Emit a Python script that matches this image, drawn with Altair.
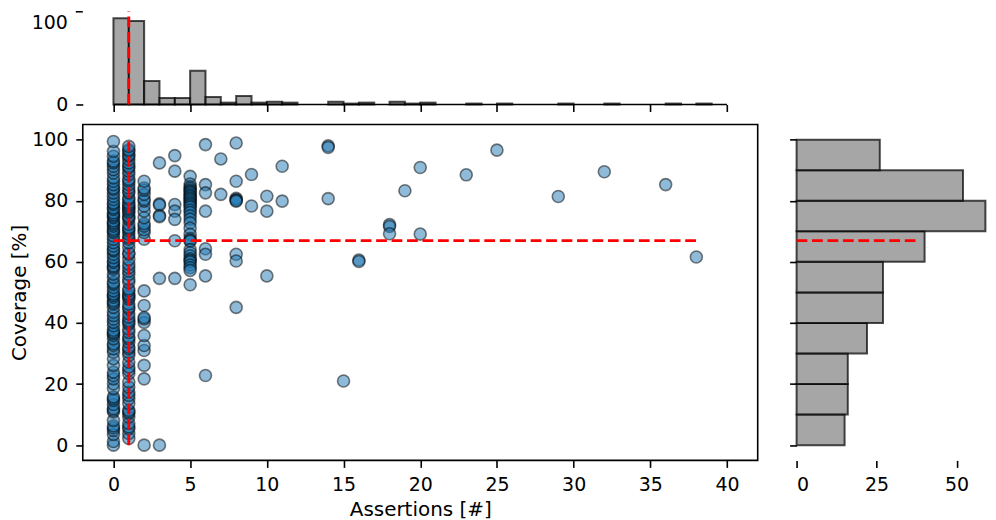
import altair as alt
import numpy as np
import pandas as pd

# ---------------- data ----------------
# coverage [%] of the tests that have 0, 1, 2, 3, 4, 5 assertions
cov_a0 = [0.0, 1.2, 3.5, 4.8, 5.6, 6.3, 8.1,
          10.9, 11.4, 12.0, 13.3, 14.6, 15.2, 15.8, 18.5,
          20.1, 21.7, 22.8, 23.9, 26.1, 28.3,
          30.4, 31.5, 32.6, 33.2, 34.8, 35.9, 36.5, 37.0, 37.6, 39.1,
          40.2, 41.3, 42.4, 43.5, 45.1, 46.2, 46.7, 47.3, 48.4, 49.0, 49.5,
          50.5, 51.6, 52.7, 53.3, 54.9, 56.0, 57.6, 58.2, 58.7, 59.8,
          60.3, 61.4, 62.5, 63.6, 64.1, 65.2, 66.3, 67.4, 68.5, 69.6,
          70.1, 70.7, 71.7, 72.3, 72.8, 73.4, 74.5, 75.0, 75.5, 76.1, 77.2, 77.7, 78.8, 79.3,
          80.4, 81.5, 82.6, 83.7, 84.2, 85.3, 86.4, 87.5, 89.1,
          90.2, 91.3, 92.4, 93.0, 94.6, 96.2, 99.4]
cov_a1 = [2.2, 3.8, 5.4, 6.0, 7.1, 9.2,
          10.3, 10.9, 11.4, 13.6, 15.2, 16.3, 17.4, 19.0,
          20.7, 23.4, 24.5, 25.6, 27.2, 29.4,
          30.4, 31.5, 32.1, 33.7, 34.8, 35.4, 36.9, 38.0, 39.6,
          40.2, 40.8, 41.9, 43.0, 44.6, 45.2, 46.2, 47.8, 48.4, 48.9, 49.5,
          50.5, 51.1, 53.3, 54.3, 55.9, 57.0, 58.1, 59.2,
          60.8, 62.5, 63.0, 64.7, 66.3, 67.4, 68.0, 69.1,
          70.1, 70.7, 71.2, 72.3, 73.9, 74.5, 75.0, 76.1, 76.6, 77.2, 77.7, 78.3, 78.8, 79.4,
          80.4, 81.0, 82.6, 83.2, 84.2, 85.3, 86.4, 87.0, 88.6, 89.7,
          90.8, 91.3, 92.4, 93.5, 94.6, 95.1, 96.2, 96.7, 97.8]
cov_a2 = [0.0, 21.7, 26.1, 31.0, 32.6, 35.9, 40.2, 41.3, 41.8, 45.7, 50.5,
          67.4, 69.6, 70.5, 71.7, 72.5, 74.5, 76.6, 78.3, 79.9,
          80.5, 82.1, 83.5, 84.2, 86.4]
cov_a3 = [92.4, 79.0, 78.6, 75.2, 74.8, 54.6, 0.0]
cov_a4 = [94.8, 89.7, 78.8, 76.6, 73.9, 66.9, 54.6]
cov_a5 = [88.0, 85.5, 84.6, 84.0, 83.4, 83.0, 82.5, 81.9, 81.5, 81.0, 80.6, 80.1,
          79.5, 79.0, 78.4, 77.9, 77.0, 76.2, 75.1, 74.0, 72.8, 71.0,
          69.0, 67.6, 67.0, 66.8, 64.0, 63.0, 62.0, 61.0, 60.5, 60.0,
          59.0, 58.1, 57.2, 52.5]
# the sparser points, as (assertions, coverage) pairs in two parallel lists
sparse_assert = [6, 6, 6, 6, 6, 6, 6, 6,
                 7, 7,
                 8, 8, 8, 8, 8, 8, 8, 8, 8,
                 9, 9,
                 10, 10, 10,
                 11, 11,
                 14, 14, 14,
                 15,
                 16, 16,
                 18, 18, 18,
                 19,
                 20, 20,
                 23, 25, 29, 32, 36, 38]
sparse_cov = [98.4, 85.3, 82.6, 76.6, 64.3, 62.5, 55.4, 22.8,
              93.7, 82.1,
              98.9, 86.4, 80.8, 80.4, 80.1, 79.9, 62.5, 60.3, 45.1,
              88.6, 78.3,
              81.5, 76.6, 55.4,
              91.3, 79.9,
              98.0, 97.5, 80.7,
              21.0,
              60.6, 60.1,
              72.2, 71.6, 69.2,
              83.3,
              90.9, 69.1,
              88.5, 96.6, 81.4, 89.5, 85.3, 61.6]

x_ticks = [0, 5, 10, 15, 20, 25, 30, 35, 40]
y_ticks = [0, 20, 40, 60, 80, 100]
count_ticks_right = [0, 25, 50]

# ---------------- build table ----------------
dense = [cov_a0, cov_a1, cov_a2, cov_a3, cov_a4, cov_a5]
assertions, coverage = [], []
for k, col in enumerate(dense):
    assertions += [k] * len(col)
    coverage += col
assertions += sparse_assert
coverage += sparse_cov
df = pd.DataFrame({"assertions": assertions, "coverage": coverage})

med_x = float(np.median(df["assertions"]))
med_y = float(np.median(df["coverage"]))
min_x, max_x = float(df["assertions"].min()), float(df["assertions"].max())
min_y, max_y = float(df["coverage"].min()), float(df["coverage"].max())
one = pd.DataFrame({"k": [0]})

# ---------------- styling ----------------
FONT = "DejaVu Sans"
W_MAIN, H_MAIN = 677, 337
H_TOP, W_RIGHT = 94, 191
RED = dict(color="red", strokeWidth=2.9, strokeDash=[10.8, 4.7])
BAR = dict(fill="#808080", fillOpacity=0.7, stroke="black", strokeOpacity=0.7, strokeWidth=2)

ax = dict(labelFont=FONT, labelFontSize=19, labelColor="black", tickColor="black",
          tickWidth=1.6, tickSize=7, labelPadding=8, titleFont=FONT, titleFontSize=20,
          titleFontWeight="normal", titleColor="black", domain=False, grid=False)

xscale = alt.Scale(domain=[-2, 42], nice=False, zero=False)
yscale = alt.Scale(domain=[-5, 105], nice=False, zero=False)

# ---------------- main scatter ----------------
pts = alt.Chart(df).mark_circle(size=145, opacity=1, fill="#1f77b4", fillOpacity=0.5,
                                stroke="black", strokeOpacity=0.5, strokeWidth=1.6).encode(
    x=alt.X("assertions:Q", scale=xscale,
            axis=alt.Axis(values=x_ticks, format="d", title="Assertions [#]", titlePadding=5, **ax)),
    y=alt.Y("coverage:Q", scale=yscale,
            axis=alt.Axis(values=y_ticks, format="d", title="Coverage [%]", titlePadding=2, **ax)),
)
vline = alt.Chart(one).mark_rule(**RED).encode(
    x=alt.datum(med_x), y=alt.datum(min_y), y2=alt.datum(max_y))
hline = alt.Chart(one).mark_rule(**RED).encode(
    y=alt.datum(med_y), x=alt.datum(min_x), x2=alt.datum(max_x))
main = alt.layer(pts, vline, hline).properties(
    width=W_MAIN, height=H_MAIN,
    view=alt.ViewBackground(stroke="black", strokeWidth=1.6))

# ---------------- top histogram ----------------
top_bars = alt.Chart(df).transform_bin(
    "xb", "assertions", bin=alt.Bin(extent=[0, 40], step=1)
).transform_aggregate(n="count()", groupby=["xb", "xb_end"]).mark_rect(**BAR).encode(
    x=alt.X("xb:Q", scale=xscale, axis=alt.Axis(values=x_ticks, labels=False, title=None, **ax)),
    x2="xb_end:Q",
    y=alt.Y("n:Q", scale=alt.Scale(domain=[0, 100], nice=False),
            axis=alt.Axis(values=[0], format="d", title=None, **ax)),
    y2=alt.datum(0),
)
top_spine = alt.Chart(one).mark_rule(color="black", strokeWidth=1.6).encode(
    x=alt.datum(0), x2=alt.datum(40), y=alt.datum(0))
top_tick100 = alt.Chart(one).mark_rule(color="black", strokeWidth=1.6).encode(
    x=alt.value(-7), x2=alt.value(0), y=alt.value(1))
top_lab100 = alt.Chart(one).mark_text(text="100", align="right", baseline="top", font=FONT,
                                      fontSize=19, color="black", dy=3).encode(
    x=alt.value(-15), y=alt.datum(100))
top_red = alt.Chart(one).mark_rule(**RED).encode(
    x=alt.datum(med_x), y=alt.datum(min_y), y2=alt.datum(max_y))
top = alt.layer(top_bars, top_spine, top_tick100, top_lab100, top_red).properties(
    width=W_MAIN, height=H_TOP)

# ---------------- right histogram ----------------
right_bars = alt.Chart(df).transform_bin(
    "yb", "coverage", bin=alt.Bin(extent=[0, 100], step=10)
).transform_aggregate(n="count()", groupby=["yb", "yb_end"]).mark_rect(**BAR).encode(
    y=alt.Y("yb:Q", scale=yscale, axis=alt.Axis(values=y_ticks, labels=False, title=None, **ax)),
    y2="yb_end:Q",
    x=alt.X("n:Q", scale=alt.Scale(domain=[0, 59.5], nice=False),
            axis=alt.Axis(values=count_ticks_right, format="d", title=None, **ax)),
    x2=alt.datum(0),
)
right_red = alt.Chart(one).mark_rule(**RED).encode(
    y=alt.datum(med_y), x=alt.datum(min_x), x2=alt.datum(max_x))
right = alt.layer(right_bars, right_red).properties(width=W_RIGHT, height=H_MAIN)

# invisible filler for the empty top-right cell of the grid
blank = alt.Chart(one).mark_point(opacity=0, size=1).encode(
    x=alt.value(40), y=alt.value(40)).properties(width=W_RIGHT, height=H_TOP)

chart = alt.concat(top, blank, main, right, columns=2,
                   spacing={"row": 20, "column": 39},
                   bounds="flush", align="each").properties(
    padding=0, background="white"
).configure_view(stroke="transparent")

chart.save("out.html", embed_options={"renderer": "svg", "actions": False})
